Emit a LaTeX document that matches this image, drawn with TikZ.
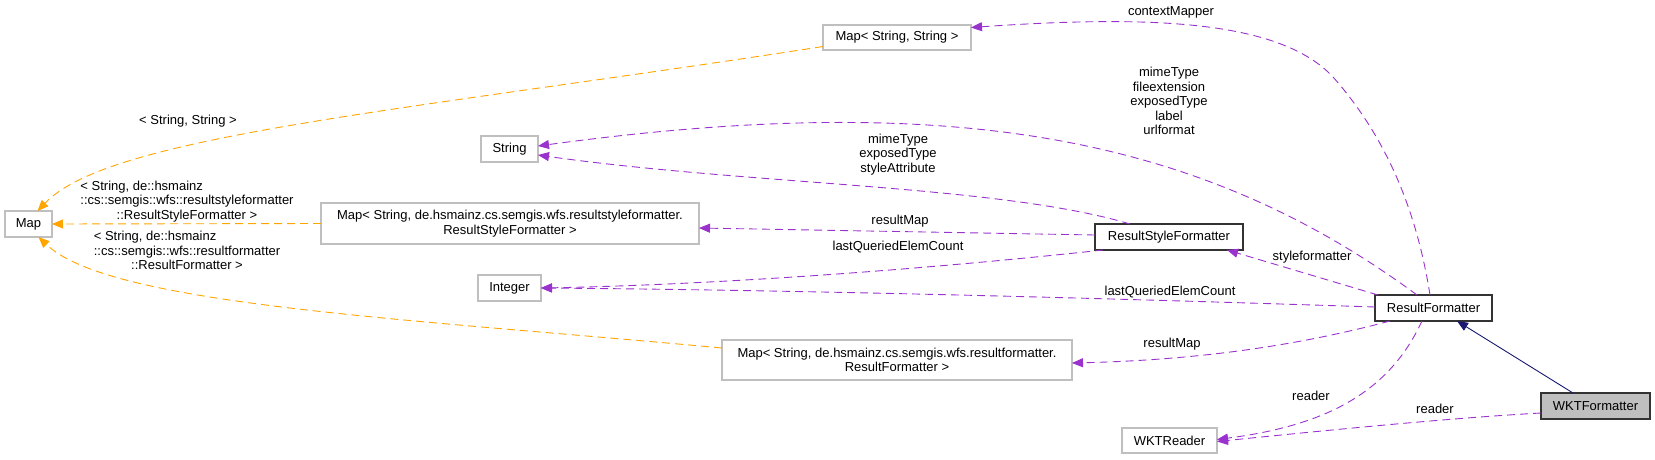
\documentclass[tikz,border=0pt]{standalone}
\usepackage{fontspec}
\setmainfont{Liberation Sans}
\usetikzlibrary{arrows.meta,calc}
\definecolor{dpurple}{HTML}{9A32CD}
\definecolor{dorange}{HTML}{FFA500}
\definecolor{dblue}{HTML}{191970}
\definecolor{boxgray}{HTML}{BFBFBF}
\begin{document}
\begin{tikzpicture}[x=1pt,y=-1pt,
  every node/.style={font=\fontsize{13}{14.5}\selectfont, inner sep=0pt, outer sep=0pt},
  extbox/.style={draw=boxgray, line width=1.2pt, rectangle, align=center},
  clsbox/.style={draw=black!80, line width=1.2pt, rectangle, align=center},
  curbox/.style={draw=black!80, fill=boxgray, line width=1.2pt, rectangle, align=center},
  usage/.style={draw=dpurple, line width=0.9pt, dash pattern=on 8pt off 5pt, -{Triangle[length=11pt,width=9pt,fill=dpurple]}},
  tmpl/.style={draw=dorange, line width=0.9pt, dash pattern=on 8pt off 5pt, -{Triangle[length=11pt,width=9pt,fill=dorange]}},
  inherit/.style={draw=dblue, line width=0.9pt, -{Triangle[length=11pt,width=9pt,fill=dblue]}},
  lbl/.style={align=center}
]
\useasboundingbox (0,0) rectangle (1655,459);

% nodes
\node[extbox, minimum width=47pt, minimum height=26pt] (map) at (28.5,224) {Map};
\node[extbox, minimum width=57pt, minimum height=26pt] (str) at (509.5,149) {String};
\node[extbox, minimum width=63pt, minimum height=26pt] (int) at (509.5,288) {Integer};
\node[extbox, minimum width=378pt, minimum height=41pt] (mrsf) at (510,223.5) {Map< String, de.hsmainz.cs.semgis.wfs.resultstyleformatter.\\ResultStyleFormatter >};
\node[extbox, minimum width=148pt, minimum height=25pt] (mss) at (897,37.5) {Map< String, String >};
\node[extbox, minimum width=350pt, minimum height=40pt] (mrf) at (897,360) {Map< String, de.hsmainz.cs.semgis.wfs.resultformatter.\\ResultFormatter >};
\node[clsbox, minimum width=148pt, minimum height=26pt] (rsf) at (1169,237) {ResultStyleFormatter};
\node[clsbox, minimum width=117pt, minimum height=26pt] (rf) at (1433.5,308) {ResultFormatter};
\node[curbox, minimum width=109pt, minimum height=26pt] (wktf) at (1595.5,406) {WKTFormatter};
\node[extbox, minimum width=95pt, minimum height=25pt] (wktr) at (1169.5,440.5) {WKTReader};

% template edges
\draw[tmpl] ($(mss.west)+(0,9)$) .. controls (400,112) and (110,135) .. ($(map.north)+(9,0)$);
\draw[tmpl] (mrsf.west) -- (map.east);
\draw[tmpl] ($(mrf.west)+(0,-12)$) .. controls (400,318) and (110,305) .. ($(map.south)+(10,0)$);

% usage edges
\coordinate (cbend) at (1333,77);
\draw[usage] ($(rsf.north west)+(35,0)$) .. controls (1000,185) and (750,185) .. ($(str.east)+(0,6)$);
\draw[usage] ($(rf.north west)+(42,0)$) .. controls (1200,135) and (950,90) .. ($(str.east)+(0,-3)$);
\draw[usage] ($(rf.north west)+(55,0)$) .. controls (1415,200) and (1380,130) .. (cbend) .. controls (1280,20) and (1150,15) .. ($(mss.east)+(0,-10)$);
\draw[usage] ($(rsf.west)+(0,-2)$) -- ($(mrsf.east)+(0,4.5)$);
\draw[usage] ($(rsf.south west)+(8,0)$) .. controls (900,272) and (700,285) .. (int.east);
\draw[usage] ($(rf.north west)+(3,0)$) -- ($(rsf.south west)+(132,0)$);
\draw[usage] ($(rf.west)+(0,-1)$) .. controls (1100,298) and (800,290) .. (int.east);
\draw[usage] ($(rf.south west)+(15,0)$) .. controls (1300,345) and (1200,360) .. ($(mrf.east)+(0,3)$);
\draw[usage] ($(rf.south west)+(47,0)$) .. controls (1390,390) and (1330,425) .. ($(wktr.east)+(0,-1)$);
\draw[usage] ($(wktf.west)+(0,7)$) .. controls (1450,418) and (1330,430) .. ($(wktr.east)+(0,1)$);
\draw[inherit] ($(wktf.north west)+(32,0)$) -- ($(rf.south west)+(82,0)$);

% labels
\node[lbl] (lss) at (188,121) {< String, String >};
\node[lbl] (lrsf) at (187,201.5) {\rlap{< String, de::hsmainz}\phantom{::cs::semgis::wfs::resultstyleformatter}\\::cs::semgis::wfs::resultstyleformatter\\::ResultStyleFormatter >};
\node[lbl] (lrf) at (187,250.5) {\rlap{< String, de::hsmainz}\phantom{::cs::semgis::wfs::resultformatter}\\::cs::semgis::wfs::resultformatter\\::ResultFormatter >};
\node[lbl] (lctx) at (1171,12) {contextMapper};
\node[lbl] (lstr5) at (1169,101) {mimeType\\fileextension\\exposedType\\label\\urlformat};
\node[lbl] (lstr3) at (898,154.5) {mimeType\\exposedType\\styleAttribute};
\node[lbl] (lrm1) at (900,221) {resultMap};
\node[lbl] (llq1) at (898,247) {lastQueriedElemCount};
\node[lbl] (lsf) at (1312,257) {styleformatter};
\node[lbl] (llq2) at (1170,292) {lastQueriedElemCount};
\node[lbl] (lrm2) at (1172,344) {resultMap};
\node[lbl] (lrd1) at (1311,396) {reader};
\node[lbl] (lrd2) at (1435,409) {reader};
\end{tikzpicture}
\end{document}
